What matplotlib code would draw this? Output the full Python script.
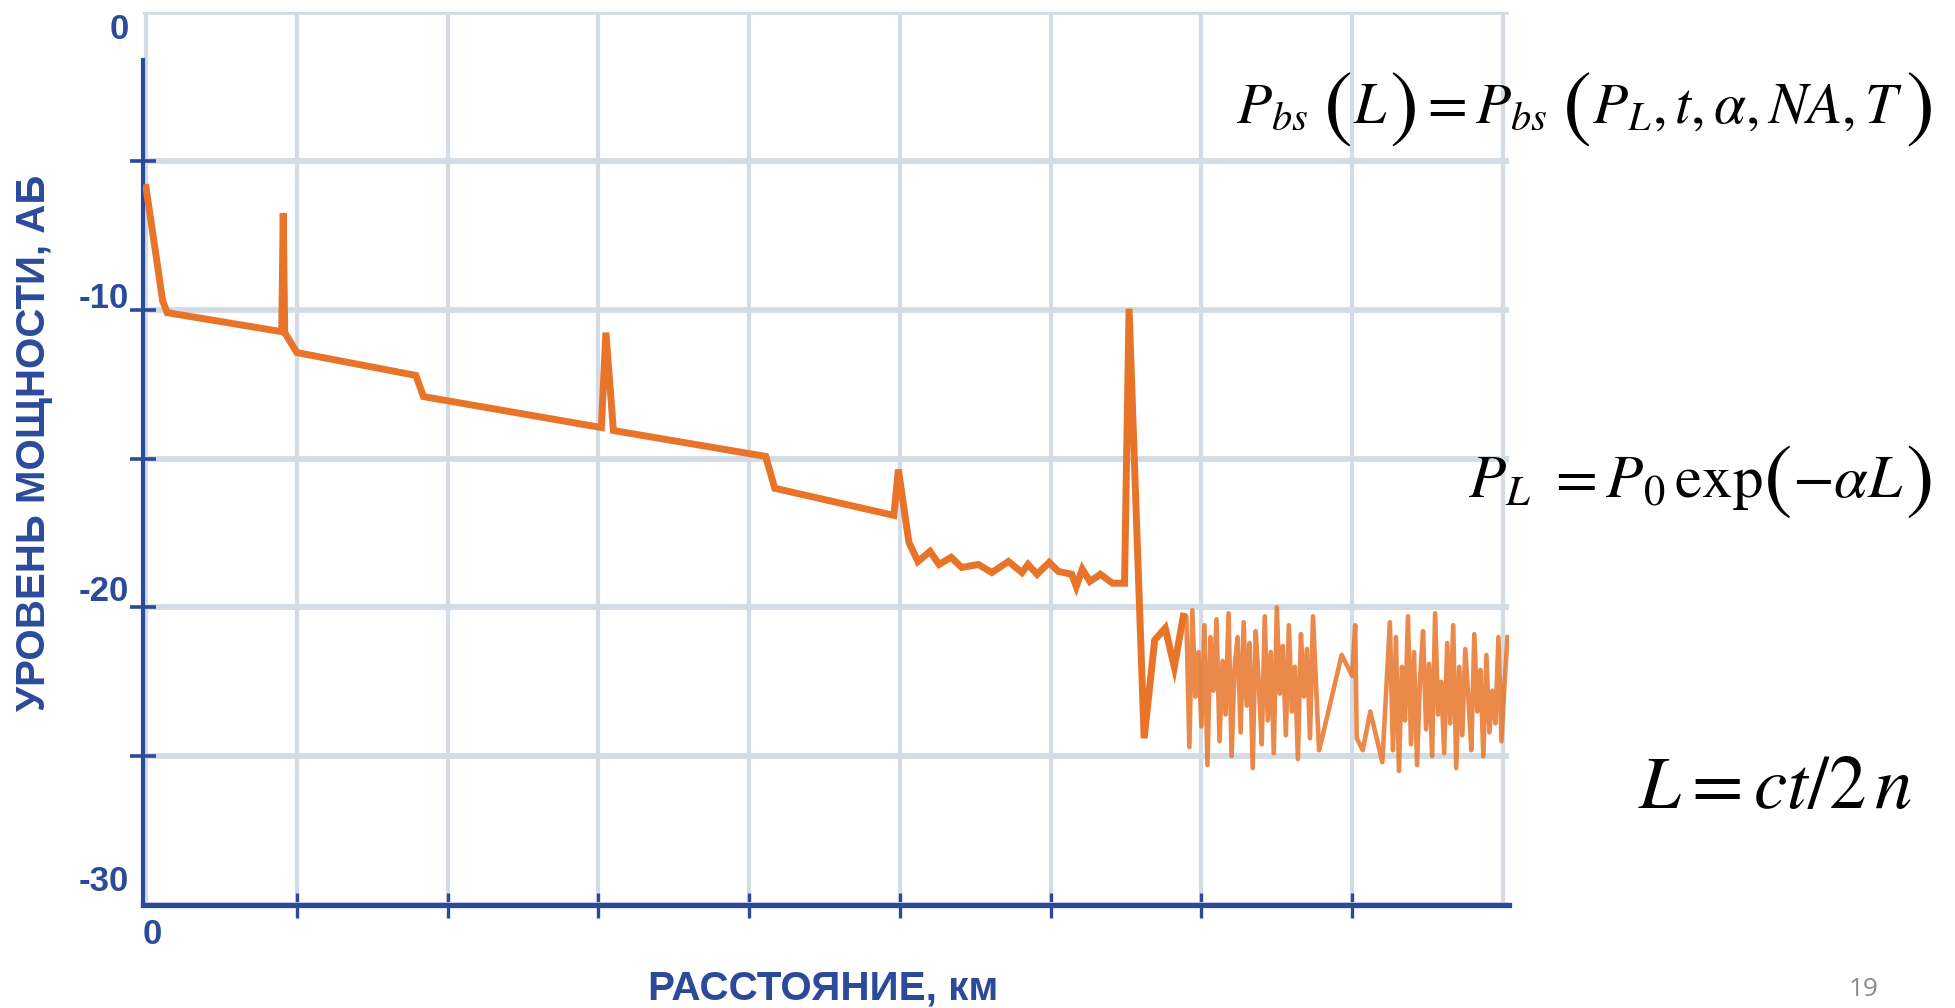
import numpy as np
import matplotlib
matplotlib.use('Agg')
import matplotlib.pyplot as plt
from matplotlib.transforms import ScaledTranslation, IdentityTransform

# ---------------- data ----------------
trace_x = [0.00, 0.07, 0.11, 0.14, 0.90, 0.91, 0.92, 1.00, 1.79, 1.84, 3.02, 3.05,
           3.10, 4.11, 4.17, 4.96, 4.99, 5.06, 5.12, 5.20, 5.26, 5.34,
           5.41, 5.52, 5.61, 5.72, 5.81, 5.85, 5.91, 5.99, 6.05, 6.14,
           6.17, 6.21, 6.26, 6.33, 6.41, 6.49, 6.52, 6.62, 6.69, 6.76,
           6.82, 6.88]
trace_y = [-5.9, -8.3, -9.7, -10.1, -10.74, -6.75, -10.77, -11.44, -12.21, -12.92, -13.96, -10.77,
           -14.06, -14.93, -16.0, -16.91, -15.37, -17.82, -18.46, -18.12, -18.56, -18.32,
           -18.66, -18.56, -18.83, -18.46, -18.83, -18.56, -18.89, -18.49, -18.79, -18.89,
           -19.30, -18.72, -19.13, -18.89, -19.19, -19.19, -9.97, -24.4, -21.1, -20.7,
           -22.0, -20.3]

noise_x = [6.88,
           6.90, 6.92, 6.94, 6.96, 6.98, 7.00, 7.02, 7.04, 7.06, 7.08,
           7.10, 7.12, 7.14, 7.16, 7.18, 7.20, 7.22, 7.24, 7.26, 7.28,
           7.30, 7.32, 7.34, 7.36, 7.38, 7.40, 7.42, 7.44, 7.46, 7.48,
           7.50, 7.52, 7.54, 7.56, 7.58, 7.60, 7.62, 7.64, 7.66, 7.68,
           7.70, 7.72, 7.74, 7.76, 7.78, 7.80,
           7.93, 8.00, 8.02, 8.03, 8.07, 8.12, 8.20,
           8.25, 8.27, 8.29, 8.31, 8.33, 8.35, 8.37, 8.39, 8.41, 8.43,
           8.45, 8.47, 8.49, 8.51, 8.53, 8.55, 8.57, 8.59, 8.61, 8.63,
           8.65, 8.67, 8.69, 8.71, 8.73, 8.75, 8.77, 8.79, 8.81, 8.83,
           8.85, 8.87, 8.89, 8.91, 8.93, 8.95, 8.97, 8.99, 9.01, 9.03]
noise_y = [-20.3,
           -20.3, -24.7, -20.1, -23.0, -21.5, -24.0, -20.6, -25.3, -21.0, -22.8,
           -20.4, -24.5, -21.8, -23.6, -20.2, -25.0, -22.0, -21.0, -24.2, -20.5,
           -23.3, -21.2, -25.4, -20.8, -22.5, -24.6, -20.3, -23.8, -21.5, -24.9,
           -20.0, -22.9, -21.3, -24.3, -20.6, -23.5, -22.0, -25.1, -20.9, -23.0,
           -21.4, -24.4, -20.3, -22.6, -24.8, -24.4,
           -21.6, -22.3, -20.6, -24.4, -24.8, -23.5, -25.2,
           -20.5, -24.8, -21.0, -25.5, -22.0, -23.8, -20.3, -24.6, -21.5, -25.3,
           -22.4, -20.8, -24.1, -21.9, -25.0, -20.2, -23.6, -22.5, -24.9, -21.2,
           -23.9, -20.6, -25.4, -22.0, -24.3, -21.4, -23.0, -24.8, -20.9, -23.5,
           -22.1, -25.0, -21.6, -24.2, -22.8, -23.9, -21.0, -24.5, -22.6, -21.0]

x_grid = [0, 1, 2, 3, 4, 5, 6, 7, 8, 9]
y_grid = [-30, -25, -20, -15, -10, -5, 0]
y_labels = ['-30', '', '-20', '', '-10', '', '0']
x_labels = ['0', '', '', '', '', '', '', '', '', '']

xlabel_text = 'РАССТОЯНИЕ, км'
ylabel_text = 'УРОВЕНЬ МОЩНОСТИ, АБ'
# formulas as pieces (text, relative size, gap after in em) so brackets can be taller
formula1 = [(r'$P_{bs}$', 1.0, 0.25), (r'$($', 1.5, 0.03), (r'$L$', 1.0, 0.03),
            (r'$)$', 1.5, 0.06), (r'$=P_{bs}$', 1.0, 0.25), (r'$($', 1.5, 0.03),
            (r'$P_L, t, \alpha, NA, T$', 1.0, 0.03), (r'$)$', 1.5, 0.0)]
formula2 = [(r'$P_L\ = P_0\,\exp$', 1.0, 0.0), (r'$($', 1.4, 0.02),
            (r'$-\alpha L$', 1.0, 0.03), (r'$)$', 1.4, 0.0)]
formula3 = [(r'$L = ct/2\,n$', 1.0, 0.0)]
page_no = '19'

# ---------------- styling ----------------
W, H = 1955, 1008
plt.rcParams['mathtext.fontset'] = 'stix'
blue = '#2b4a9a'
orange = '#e8742a'
gridc = '#d3dce4'
narrow = ['Liberation Sans Narrow', 'Liberation Sans', 'DejaVu Sans']

fig = plt.figure(figsize=(W / 100, H / 100), dpi=100)
ax = fig.add_axes([143 / W, 1 - 905 / H, (1509 - 143) / W, (905 - 12) / H])
ax.set_xlim(-0.02, 9.04)
ax.set_ylim(-30, 0)

ax.plot(trace_x, trace_y, color=orange, lw=5.0, solid_joinstyle='miter', zorder=4)
ax.plot(noise_x, noise_y, color=orange, lw=3.3, alpha=0.85, zorder=3)

ax.set_axisbelow(True)
ax.xaxis.grid(True, color=gridc, lw=3.0, zorder=0)
ax.yaxis.grid(True, color=gridc, lw=4.2, zorder=0)

for s in ['top', 'right']:
    ax.spines[s].set_visible(False)
ax.spines['left'].set_color(blue)
ax.spines['left'].set_linewidth(3.0)
ax.spines['left'].set_bounds(-30, -1.6)
ax.spines['bottom'].set_color(blue)
ax.spines['bottom'].set_linewidth(3.8)

ax.tick_params(axis='y', direction='inout', length=19, width=2.6, color=blue, pad=1)
ax.tick_params(axis='x', direction='inout', length=18, width=2.4, color=blue, pad=0)

ax.set_xticks(x_grid)
ax.set_xticklabels(x_labels, fontsize=25, fontweight='bold', color=blue, family=narrow)
ax.set_yticks(y_grid)
ax.set_yticklabels(y_labels, fontsize=25, fontweight='bold', color=blue, family=narrow)

ax.yaxis.get_major_ticks()[-1].tick1line.set_visible(False)
ax.yaxis.get_major_ticks()[0].tick1line.set_visible(False)
ax.xaxis.get_major_ticks()[0].tick1line.set_visible(False)
ax.xaxis.get_major_ticks()[-1].tick1line.set_visible(False)

offsets = {'-30': 0.27, '-20': 0.19, '-10': 0.15, '0': -0.14}
for lbl, txt in zip(ax.get_yticklabels(), y_labels):
    if txt in offsets:
        lbl.set_transform(lbl.get_transform() +
                          ScaledTranslation(0, offsets[txt], fig.dpi_scale_trans))
for lbl in ax.get_xticklabels():
    lbl.set_transform(lbl.get_transform() + ScaledTranslation(0.06, 0, fig.dpi_scale_trans))

xl = ax.set_xlabel(xlabel_text, fontsize=26, fontweight='heavy', color=blue,
                   family=narrow, va='center', ha='center')
ax.xaxis.set_label_coords(0.5 - 3 / 1366, (905 - 989) / 893)
yl = ax.set_ylabel(ylabel_text, fontsize=28, fontweight='heavy', color=blue,
                   family=narrow, va='center', ha='center')
ax.yaxis.set_label_coords((34 - 143) / 1366, (905 - 443) / 893)

pn = fig.text(1864 / W, 1 - 990 / H, page_no, fontsize=20, color='#8c8c8c',
              family=['Open Sans', 'DejaVu Sans'], ha='center', va='center')

fig.canvas.draw()
r = fig.canvas.get_renderer()


def fit(t, target, dim='w'):
    bb = t.get_window_extent(r)
    cur = bb.width if dim == 'w' else bb.height
    t.set_fontsize(t.get_fontsize() * target / cur)


def place_formula(pieces, xc, base_top, target_w, base_size=36, axis_frac=0.28):
    """Lay out formula pieces on one baseline (pixels from the top)."""
    y0 = H - base_top
    texts = [fig.text(0, y0, s, fontsize=base_size * k, transform=IdentityTransform(),
                      ha='left', va='baseline', color='black') for s, k, g in pieces]

    def total(size):
        em_px = size * 100 / 72
        return sum(t.get_window_extent(r).width + g * em_px
                   for t, (s, k, g) in zip(texts, pieces))

    scale = target_w / total(base_size)
    size = base_size * scale
    for t, (s, k, g) in zip(texts, pieces):
        t.set_fontsize(size * k)
    em = size * 100 / 72
    w_all = total(size)
    x = xc - w_all / 2
    for t, (s, k, g) in zip(texts, pieces):
        t.set_x(x)
        if k != 1.0:
            bb = t.get_window_extent(r)
            cy = (bb.y0 + bb.y1) / 2
            t.set_y(y0 + (y0 + axis_frac * em - cy))
        x += t.get_window_extent(r).width + g * em
    return texts


place_formula(formula1, 1584, 123, 698)
place_formula(formula2, 1700, 497, 465)
place_formula(formula3, 1775, 808, 275)

fit(xl, 350)
fit(yl, 536, 'h')
fit(pn, 30)

fig.savefig('out.png', dpi=100, facecolor='white')
